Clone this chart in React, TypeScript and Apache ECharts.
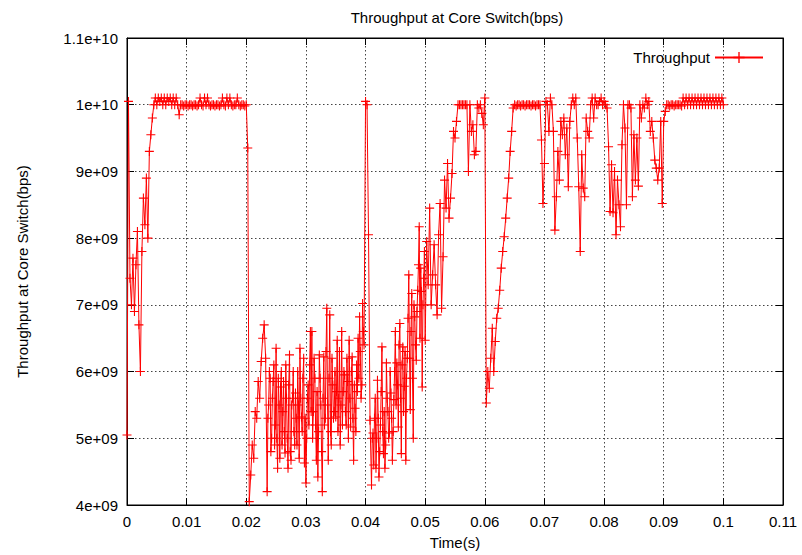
import React, { useEffect, useRef } from "react";
import * as echarts from "echarts";

// Sampling step of the throughput trace (seconds)
const T_STEP = 0.00025;

// Throughput samples in units of 1e9 bps, one per T_STEP starting at t = 0
const THROUGHPUT_GBPS: number[] = [
  // 0
  5.05, 10.05, 7.4, 7.0, 7.7, 6.9, 7.6, 8.1, 6.7, 6.0,
  7.8, 8.6, 8.2, 8.9, 8.0, 9.3, 9.55, 9.8, 10.0, 10.1,
  10.0, 10.1, 10.05, 10.1, 10.0, 10.1, 10.0, 10.1, 10.05, 10.1,
  10.0, 10.1, 10.0, 10.1, 10.0, 9.85, 10.0, 10.0, 9.98, 10.0,
  // 40
  10.0, 9.98, 10.0, 10.0, 9.98, 10.0, 10.0, 9.98, 10.0, 10.1,
  10.0, 9.98, 10.1, 10.0, 10.1, 10.0, 9.98, 10.0, 10.0, 9.98,
  10.0, 10.0, 9.98, 10.0, 10.1, 10.0, 9.98, 10.1, 10.0, 10.1,
  10.0, 9.98, 10.0, 10.0, 10.1, 10.0, 9.98, 10.0, 10.0, 9.98,
  // 80
  10.0, 9.35, 4.05, 4.45, 4.9, 4.7, 5.4, 5.3, 5.85, 5.6,
  6.15, 6.5, 6.7, 6.2, 4.2, 5.5, 5.9, 5.0, 5.85, 4.9,
  6.35, 4.55, 5.5, 5.77, 4.9, 5.85, 4.78, 5.6, 4.55, 6.25,
  4.67, 5.6, 5.1, 5.68, 4.9, 5.5, 6.35, 5.32, 5.9, 4.63,
  // 120
  4.33, 5.6, 5.2, 6.6, 6.6, 5.4, 5.9, 4.67, 4.42, 6.25,
  5.5, 4.2, 6.22, 5.3, 6.95, 4.67, 6.85, 4.9, 5.8, 5.4,
  5.32, 6.47, 5.6, 4.9, 6.6, 5.7, 5.95, 5.2, 5.85, 6.47,
  5.17, 6.22, 4.67, 5.45, 6.1, 6.5, 6.82, 5.6, 7.02, 6.4,
  // 160
  10.05, 10.0, 8.05, 5.27, 4.3, 5.08, 5.3, 4.55, 5.87, 4.42,
  5.2, 6.37, 4.77, 4.55, 6.13, 5.4, 5.08, 5.68, 4.67, 5.58,
  6.6, 6.13, 5.17, 6.72, 4.77, 6.37, 5.78, 4.67, 6.2, 7.45,
  5.43, 7.17, 5.0, 6.82, 6.17, 7.22, 8.17, 7.55, 5.77, 7.4,
  // 200
  6.47, 7.95, 7.3, 8.45, 7.0, 7.45, 7.9, 7.3, 6.85, 8.05,
  8.52, 6.95, 7.72, 8.87, 8.45, 9.12, 8.3, 8.6, 8.97, 9.6,
  9.5, 9.75, 10.0, 10.0, 10.0, 10.0, 10.0, 10.0, 10.0, 9.0,
  10.0, 9.6, 9.7, 9.25, 9.3, 10.0, 9.95, 10.0, 9.87, 9.7,
  // 240
  10.1, 5.53, 6.0, 5.75, 6.2, 6.65, 6.0, 6.45, 6.8, 6.95,
  7.22, 7.55, 7.8, 8.02, 8.3, 8.6, 8.9, 9.3, 9.6, 9.95,
  10.0, 9.98, 10.0, 10.0, 9.98, 10.0, 10.0, 9.98, 10.0, 10.0,
  10.0, 9.98, 10.0, 10.0, 9.98, 10.0, 10.0, 10.0, 9.47, 8.52,
  // 280
  9.12, 10.05, 10.0, 9.6, 10.1, 10.0, 9.6, 8.12, 8.62, 9.3,
  8.87, 9.75, 9.55, 9.8, 9.25, 9.65, 8.77, 9.75, 10.0, 10.1,
  10.0, 10.1, 9.5, 8.77, 7.8, 9.25, 8.75, 8.62, 9.8, 9.6,
  9.5, 10.0, 10.1, 9.8, 10.1, 10.0, 10.0, 10.05, 10.1, 10.0,
  // 320
  10.05, 10.0, 9.95, 9.37, 8.4, 9.1, 8.38, 9.0, 8.05, 8.87,
  8.5, 8.17, 9.4, 10.0, 9.65, 8.5, 10.0, 10.0, 9.95, 8.62,
  9.55, 8.87, 9.5, 8.78, 10.0, 9.8, 10.0, 9.95, 10.1, 10.0,
  10.05, 9.6, 9.75, 9.5, 9.17, 9.05, 8.87, 9.05, 9.75, 8.52,
  // 360
  9.75, 9.9, 10.0, 10.0, 9.98, 10.0, 10.0, 9.98, 10.0, 10.0,
  10.0, 10.0, 9.98, 10.1, 10.0, 10.1, 10.0, 10.1, 10.0, 10.1,
  10.0, 10.1, 10.0, 10.1, 10.0, 10.1, 10.0, 10.1, 10.0, 10.1,
  10.0, 10.1, 10.0, 10.1, 10.0, 10.1, 10.0, 10.1, 10.0, 10.1,
  // 400
  10.0,
];

// Extra samples between the regular ones (at (i + 0.5) * T_STEP) in the dense, noisy stretches
const MID_START_A = 94;
const MID_GBPS_A: number[] = [
  5.3, 6.0, 4.8, 5.6, 6.1, 5.2, 5.0, 5.9, 4.7, 6.0,
  5.4, 5.1, 6.1, 5.0, 5.8, 4.8, 5.5, 6.0, 4.9, 5.3,
  6.0, 4.7, 5.6, 5.1, 6.2, 5.3, 5.0, 5.8, 6.1, 5.4,
  5.0, 6.2, 5.2, 5.7, 5.1, 5.9, 4.8, 5.6, 5.2, 6.3,
  5.5, 5.9, 5.1, 6.2, 5.3, 6.0, 5.7, 5.1, 6.3, 5.5,
  5.2, 6.0, 5.4, 6.2, 5.0, 5.6, 6.0, 5.3, 5.8, 5.1,
  5.7, 5.9, 6.3, 5.8, 6.6,
];
const MID_START_B = 164;
const MID_GBPS_B: number[] = [
  5.0, 4.6, 5.6, 5.0, 5.3, 4.8, 5.7, 5.1, 5.4, 4.9,
  5.6, 5.0, 6.0, 5.3, 5.1, 6.0, 5.5, 5.8, 6.4, 5.6,
  6.1, 5.4, 6.3, 5.9, 6.8, 6.2, 6.6, 5.9, 7.0, 6.4,
  6.9, 7.6, 6.5, 7.2, 7.0, 7.8,
];

const SERIES_NAME = "Throughput";
const TITLE = "Throughput at Core Switch(bps)";
const X_NAME = "Time(s)";
const Y_NAME = "Throughput at Core Switch(bps)";

const X_MIN = 0;
const X_MAX = 0.11;
const X_INTERVAL = 0.01;
const Y_MIN = 4e9;
const Y_MAX = 1.1e10;
const Y_INTERVAL = 1e9;

const FONT = "'Liberation Sans', Arial, Helvetica, sans-serif";

function fmtX(v: number): string {
  return String(Number(v.toFixed(2)));
}

function fmtY(v: number): string {
  if (v === 0) return "0";
  const exp = Math.floor(Math.log10(v) + 1e-9);
  const m = Number((v / Math.pow(10, exp)).toFixed(2));
  const e = exp < 10 ? "0" + exp : String(exp);
  return `${m}e+${e}`;
}

export default function App() {
  const ref = useRef<HTMLDivElement>(null);

  useEffect(() => {
    if (!ref.current) return;
    const chart = echarts.init(ref.current, undefined, { renderer: "svg" });

    const pts: number[][] = [];
    THROUGHPUT_GBPS.forEach((v, i) => pts.push([i * T_STEP, v * 1e9]));
    MID_GBPS_A.forEach((v, k) => pts.push([(MID_START_A + k + 0.5) * T_STEP, v * 1e9]));
    MID_GBPS_B.forEach((v, k) => pts.push([(MID_START_B + k + 0.5) * T_STEP, v * 1e9]));
    pts.sort((a, b) => a[0] - b[0]);
    const data = pts.map((p) => [Number(p[0].toFixed(6)), p[1]]);

    const gridLine = {
      show: true,
      lineStyle: { color: "#444", width: 1, type: [1.5, 2.5] as any },
    };
    const axisLine = { show: true, onZero: false, lineStyle: { color: "#000", width: 1 } };
    const tick = { show: true, inside: true, length: 7, lineStyle: { color: "#000", width: 1 } };
    const label = { color: "#000", fontFamily: FONT, fontSize: 15 };

    chart.setOption({
      animation: false,
      backgroundColor: "#fff",
      title: {
        text: TITLE,
        left: 452,
        textAlign: "center",
        top: 5,
        textStyle: { fontFamily: FONT, fontSize: 15, fontWeight: "normal", color: "#000" },
      },
      legend: {
        show: true,
        data: [SERIES_NAME],
        right: 33,
        top: 45,
        align: "right",
        itemWidth: 48,
        itemHeight: 14,
        itemGap: 8,
        textStyle: { fontFamily: FONT, fontSize: 15, color: "#000" },
      },
      grid: {
        left: 127,
        right: 19,
        top: 38,
        bottom: 50,
        show: true,
        borderColor: "#000",
        borderWidth: 1,
        backgroundColor: "transparent",
      },
      xAxis: [
        {
          type: "value",
          min: X_MIN,
          max: X_MAX,
          interval: X_INTERVAL,
          name: X_NAME,
          nameLocation: "middle",
          nameGap: 30,
          nameTextStyle: { fontFamily: FONT, fontSize: 15, color: "#000" },
          axisLine,
          axisTick: tick,
          axisLabel: { ...label, margin: 9, formatter: fmtX },
          splitLine: gridLine,
        },
        {
          type: "value",
          position: "top",
          min: X_MIN,
          max: X_MAX,
          interval: X_INTERVAL,
          axisLine,
          axisTick: tick,
          axisLabel: { show: false },
          splitLine: { show: false },
        },
      ],
      yAxis: [
        {
          type: "value",
          min: Y_MIN,
          max: Y_MAX,
          interval: Y_INTERVAL,
          name: Y_NAME,
          nameLocation: "middle",
          nameGap: 97,
          nameTextStyle: { fontFamily: FONT, fontSize: 15, color: "#000" },
          axisLine,
          axisTick: tick,
          axisLabel: { ...label, margin: 9, formatter: fmtY },
          splitLine: gridLine,
        },
        {
          type: "value",
          position: "right",
          min: Y_MIN,
          max: Y_MAX,
          interval: Y_INTERVAL,
          axisLine,
          axisTick: tick,
          axisLabel: { show: false },
          splitLine: { show: false },
        },
      ],
      series: [
        {
          name: SERIES_NAME,
          type: "line",
          xAxisIndex: 0,
          yAxisIndex: 0,
          data,
          showSymbol: true,
          showAllSymbol: true,
          symbol: "path://M0,4.4H10V5.6H0Z M4.4,0H5.6V10H4.4Z",
          symbolSize: 9,
          lineStyle: { color: "#ff0000", width: 1 },
          itemStyle: { color: "#ff0000" },
          clip: true,
          z: 3,
        },
      ],
    });

    return () => chart.dispose();
  }, []);

  return (
    <div
      ref={ref}
      style={{ position: "fixed", left: 0, top: 0, width: 802, height: 555, background: "#fff" }}
    />
  );
}
